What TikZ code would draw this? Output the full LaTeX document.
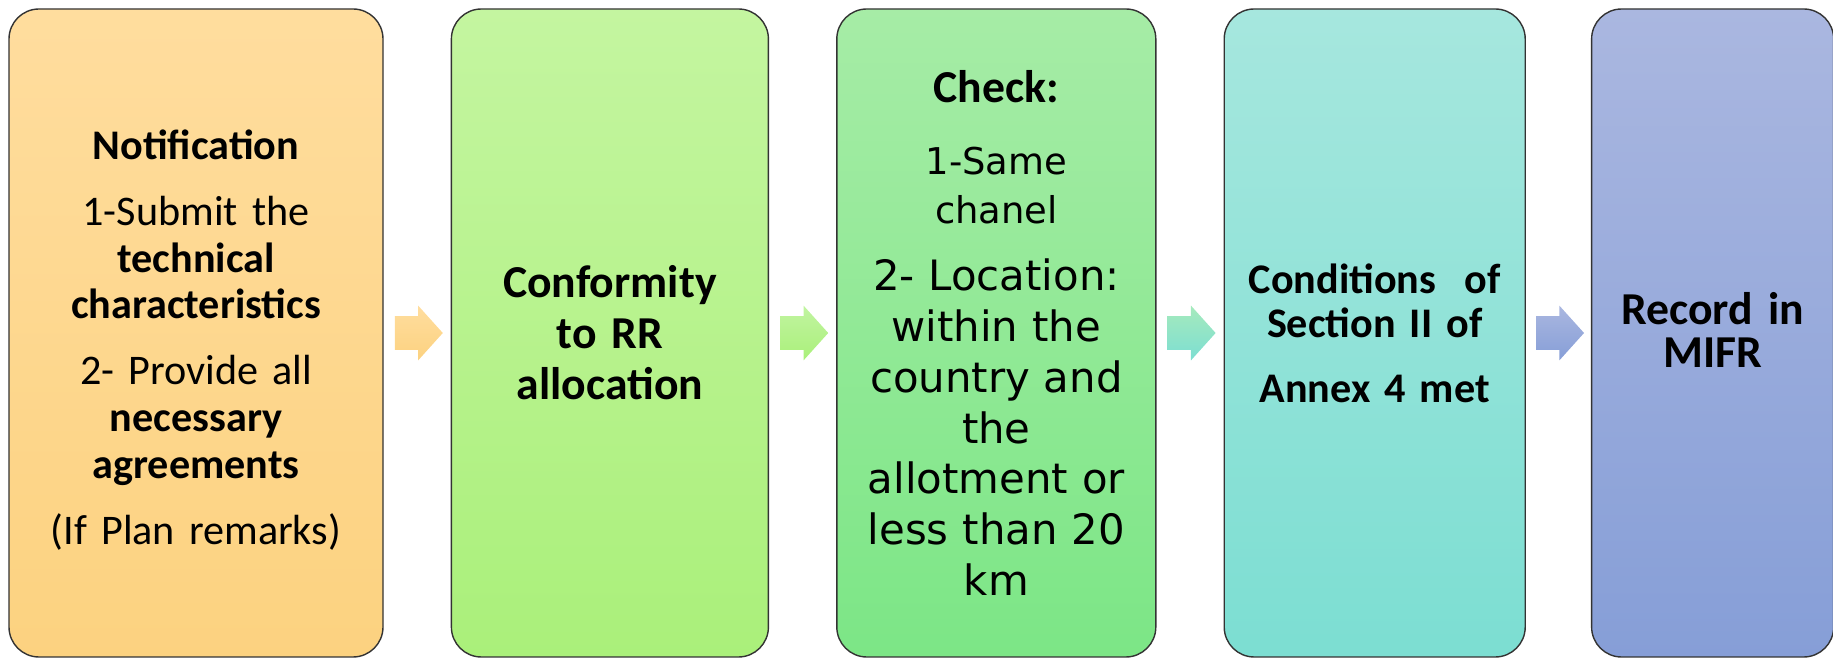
\documentclass[tikz,border=0pt]{standalone}
\usepackage{fontspec}
\setmainfont{Carlito}
\newfontfamily\verdfont{DejaVu Sans}
\usetikzlibrary{positioning,shapes.arrows,calc}

\definecolor{notifTop}{RGB}{255,221,158}
\definecolor{notifBot}{RGB}{252,210,128}
\definecolor{confTop}{RGB}{196,245,160}
\definecolor{confBot}{RGB}{170,240,122}
\definecolor{checkTop}{RGB}{166,236,166}
\definecolor{checkBot}{RGB}{124,230,134}
\definecolor{condTop}{RGB}{166,231,222}
\definecolor{condBot}{RGB}{124,222,210}
\definecolor{recTop}{RGB}{170,183,224}
\definecolor{recBot}{RGB}{134,158,215}

\begin{document}
\begin{tikzpicture}[node distance=1.34cm]
    \tikzstyle{stage} = [rectangle, rounded corners=0.6cm, draw=black!80, line width=0.8pt, minimum height=12.96cm, inner xsep=0.2cm, inner ysep=0.2cm, align=center]
    \tikzstyle{flow} = [single arrow, draw=none, inner xsep=0pt, inner ysep=0.33cm, minimum height=0.96cm, single arrow head extend=0.21cm, single arrow tip angle=96, xshift=-0.12cm]

    \useasboundingbox (0,0) rectangle (36.66,13.28);

    % Stages
    \node [stage, text width=7.08cm, top color=notifTop, bottom color=notifBot, font=\fontsize{24}{26.6}\selectfont] (notif) at (3.92,6.62)
        {\textbf{Notification}\\[11pt] 1-Submit the\\ \textbf{technical}\\ \textbf{characteristics}\\[11pt] 2- Provide all\\ \textbf{necessary}\\ \textbf{agreements}\\[11pt] (If Plan remarks)\vspace*{-0.28cm}};
    \node [stage, text width=5.94cm, top color=confTop, bottom color=confBot, font=\fontsize{26}{29}\selectfont\bfseries, right=of notif] (conform)
        {Conformity\\ to RR\\ allocation};
    \node [stage, text width=5.98cm, top color=checkTop, bottom color=checkBot, font=\verdfont\fontsize{23.8}{29}\selectfont, right=of conform] (check)
        {{\rmfamily\bfseries\fontsize{26}{29}\selectfont Check:}\\[12pt]
         {\fontsize{21}{29}\selectfont 1-Same}\\[-1pt]
         {\fontsize{21}{29}\selectfont chanel}\\[9pt]
         2- Location:\\ within the\\ country and\\ the\\ allotment or\\ less than 20\\ km};
    \node [stage, text width=5.62cm, top color=condTop, bottom color=condBot, font=\fontsize{24}{25}\selectfont\bfseries, right=of check] (cond)
        {Conditions\ \ of\\ Section II of\\[12pt] Annex 4 met};
    \node [stage, text width=4.44cm, top color=recTop, bottom color=recBot, font=\fontsize{26}{24.5}\selectfont\bfseries, right=1.3cm of cond] (record)
        {Record in\\ MIFR\vspace*{0.12cm}};

    % Arrows between stages
    \node [flow, top color=notifTop, bottom color=notifBot] (a1) at ($(notif.east)!0.5!(conform.west)$) {};
    \node [flow, top color=confTop!90!checkTop, bottom color=confBot] (a2) at ($(conform.east)!0.5!(check.west)$) {};
    \node [flow, top color=checkTop!60!condTop, bottom color=condBot] (a3) at ($(check.east)!0.5!(cond.west)$) {};
    \node [flow, top color=recTop, bottom color=recBot] (a4) at ($(cond.east)!0.5!(record.west)$) {};
\end{tikzpicture}
\end{document}
